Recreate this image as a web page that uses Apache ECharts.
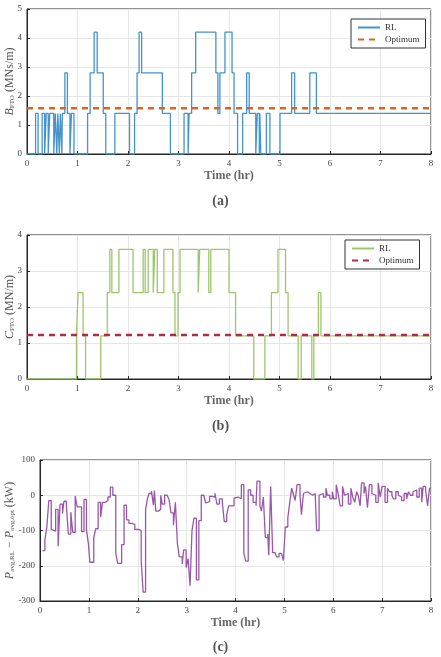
<!DOCTYPE html>
<html>
<head>
<meta charset="utf-8">
<script src="https://cdn.jsdelivr.net/npm/echarts@6/dist/echarts.min.js"></script>
<style>
  html, body { margin: 0; padding: 0; background: #fff; }
  #chart { width: 441px; height: 657px; }
</style>
</head>
<body>
<div id="chart"></div>
<script>
// (a) B_PTO steps: value holds from time[i] to time[i+1]
var bTime = [0, 0.17, 0.22, 0.30, 0.35, 0.38, 0.42, 0.45, 0.53, 0.56,
             0.59, 0.61, 0.64, 0.66, 0.69, 0.70, 0.75, 0.80, 0.85, 0.88,
             0.93, 1.20, 1.25, 1.33, 1.39, 1.51, 1.56, 1.74, 2.03, 2.13,
             2.18, 2.22, 2.27, 2.68, 2.84, 3.11, 3.19, 3.21, 3.26, 3.34,
             3.74, 3.78, 3.82, 3.92, 4.06, 4.10, 4.17, 4.27, 4.35, 4.40,
             4.53, 4.56, 4.60, 4.61, 4.63, 4.74, 4.81, 5.01, 5.24, 5.30,
             5.60, 5.73, 8];
var bVal  = [0, 1.4, 0, 1.4, 0, 1.4, 0, 1.4, 0, 1.4,
             0, 1.4, 0, 1.4, 0, 1.4, 2.8, 1.4, 0, 1.4,
             0, 1.4, 2.8, 4.2, 2.8, 1.4, 0, 1.4, 0, 1.4,
             2.8, 4.2, 2.8, 1.4, 0, 1.4, 0, 1.4, 2.8, 4.2,
             2.8, 1.4, 2.8, 4.2, 2.8, 1.4, 0, 1.4, 2.8, 1.4,
             0, 1.4, 0, 1.4, 0, 1.4, 0, 1.4, 2.8, 1.4,
             2.8, 1.4, 1.4];
var bOpt = 1.58;

// (b) C_PTO steps
var cTime = [0, 0.98, 1.01, 1.11, 1.16, 1.46, 1.59, 1.64, 1.68, 1.82,
             2.10, 2.30, 2.34, 2.40, 2.50, 2.53, 2.58, 2.71, 2.89, 2.93,
             2.99, 3.03, 3.39, 3.42, 3.60, 3.64, 4.00, 4.13, 4.49, 4.71,
             4.84, 4.97, 5.12, 5.17, 5.37, 5.43, 5.64, 5.68, 5.77, 5.82,
             8];
var cVal  = [0, 1.2, 2.4, 1.2, 0, 1.2, 2.4, 3.6, 2.4, 3.6,
             2.4, 3.6, 2.4, 3.6, 2.4, 3.6, 2.4, 3.6, 2.4, 1.2,
             2.4, 3.6, 2.4, 3.6, 2.4, 3.6, 2.4, 1.2, 0, 1.2,
             2.4, 3.6, 2.4, 1.2, 0, 1.2, 0, 1.2, 2.4, 1.2,
             1.2];
var cOpt = 1.22;

// (c) P_avg,RL - P_avg,opt (kW)
var pTime = [0.05,0.10,0.14,0.18,0.23,0.27,0.32,0.37,0.41,0.46,
             0.49,0.54,0.58,0.63,0.67,0.72,0.76,0.85,0.90,0.95,
             0.99,1.02,1.10,1.14,1.19,1.24,1.28,1.34,1.39,1.44,
             1.49,1.55,1.59,1.67,1.72,1.77,1.82,1.89,1.94,2.02,
             2.07,2.11,2.16,2.19,2.23,2.28,2.32,2.34,2.37,2.42,
             2.47,2.50,2.55,2.60,2.64,2.68,2.73,2.77,2.81,2.85,
             2.91,2.94,2.99,3.03,3.07,3.11,3.15,3.20,3.25,3.30,
             3.35,3.39,3.43,3.47,3.52,3.58,3.62,3.67,3.73,3.77,
             3.82,3.86,3.92,3.97,4.00,4.05,4.12,4.17,4.21,4.26,
             4.31,4.36,4.42,4.44,4.50,4.53,4.57,4.61,4.66,4.68,
             4.72,4.76,4.81,4.84,4.89,4.94,4.98,5.02,5.07,5.11,
             5.15,5.18,5.22,5.26,5.32,5.35,5.39,5.43,5.47,5.52,
             5.58,5.63,5.66,5.71,5.75,5.80,5.85,5.88,5.93,5.98,
             6.01,6.06,6.10,6.14,6.19,6.23,6.27,6.31,6.36,6.40,
             6.44,6.48,6.51,6.55,6.58,6.63,6.66,6.70,6.74,6.79,
             6.83,6.87,6.92,6.96,7.00,7.06,7.11,7.15,7.20,7.23,
             7.28,7.33,7.37,7.40,7.45,7.50,7.54,7.58,7.63,7.67,
             7.71,7.76,7.81,7.84,7.89,7.93,7.97,8.00];
var pVal  = [-157,-127,-90,-15,-97,-102,-40,-145,-25,-52,
             -17,-30,-110,-48,-105,-2,-33,-103,-12,-97,
             -137,-190,-120,-95,-20,-62,-20,-15,-5,23,
             0,-165,-193,-140,-28,-70,-80,-83,-97,-100,
             -185,-275,-40,-15,5,12,-28,13,-45,-40,
             0,-25,0,5,-12,-50,-85,-20,-135,-175,
             -195,-155,-205,-180,-257,-100,-65,-240,-72,0,
             -3,-22,-18,-3,-5,5,-25,-10,-20,-75,
             -55,-30,-30,-8,-5,-10,30,-165,-187,15,
             0,-20,-30,40,-30,-45,-5,-120,-110,-170,
             25,-163,-160,-175,-165,-170,-185,-90,-65,-20,
             20,5,-15,30,-2,-55,5,10,5,0,
             5,0,-100,0,5,-5,20,0,-10,10,
             -10,30,5,-30,25,0,5,-25,20,-5,
             -20,10,0,-30,35,5,25,-35,30,5,
             0,-20,35,-5,25,-20,20,10,0,-10,
             10,0,-5,-15,5,-10,10,0,10,15,
             -5,20,-20,25,15,-30,20,20];

var serif = 'Liberation Serif';
var gridColor = '#e6e6e6';

function pairs(ts, vs) {
    return ts.map(function (t, i) { return [t, vs[i]]; });
}

function xAx(idx) {
    return {
        type: 'value', gridIndex: idx, min: 0, max: 8, interval: 1,
        name: 'Time (hr)', nameLocation: 'middle', nameGap: 16, nameMoveOverlap: false,
        nameTextStyle: { fontFamily: serif, fontSize: 12, fontWeight: 'bold', color: '#666' },
        axisLine: { show: true, onZero: false, lineStyle: { color: '#262626', width: 1 } },
        axisTick: { inside: true, length: 3, lineStyle: { color: '#262626' } },
        axisLabel: { fontFamily: serif, fontSize: 9, color: '#444', margin: 5 },
        splitLine: { show: true, lineStyle: { color: gridColor } }
    };
}

function yAx(idx, min, max, interval, name, gap) {
    return {
        type: 'value', gridIndex: idx, min: min, max: max, interval: interval,
        name: name, nameLocation: 'middle', nameGap: gap, nameRotate: 90, nameMoveOverlap: false,
        nameTextStyle: {
            fontFamily: serif, color: '#555', verticalAlign: 'bottom',
            rich: {
                i: { fontFamily: serif, fontStyle: 'italic', fontSize: 12, color: '#555', verticalAlign: 'bottom' },
                s: { fontFamily: serif, fontSize: 7, color: '#555', verticalAlign: 'bottom', lineHeight: 8 },
                n: { fontFamily: serif, fontSize: 12, color: '#555', verticalAlign: 'bottom' }
            }
        },
        axisLine: { show: true, lineStyle: { color: '#262626', width: 1 } },
        axisTick: { inside: true, length: 3, lineStyle: { color: '#262626' } },
        axisLabel: { fontFamily: serif, fontSize: 9, color: '#444', margin: 5 },
        splitLine: { show: true, lineStyle: { color: gridColor } }
    };
}

function legendAt(left, top, names) {
    return {
        left: left, top: top, orient: 'vertical',
        data: names,
        formatter: function (n) { return n.split('_')[0]; },
        itemWidth: 22, itemHeight: 8, itemGap: 3,
        padding: [4, 6, 4, 6],
        itemStyle: { opacity: 0 },
        borderColor: '#333', borderWidth: 1, backgroundColor: '#fff',
        textStyle: { fontFamily: serif, fontSize: 9, color: '#333' }
    };
}

var chart = echarts.init(document.getElementById('chart'));
chart.setOption({
    animation: false,
    grid: [
        { left: 27, top: 9, width: 404, height: 145, outerBoundsMode: 'none', containLabel: false, show: true, borderColor: '#262626', borderWidth: 1 },
        { left: 27, top: 235, width: 404, height: 144, outerBoundsMode: 'none', containLabel: false, show: true, borderColor: '#262626', borderWidth: 1 },
        { left: 40, top: 460, width: 391, height: 141, outerBoundsMode: 'none', containLabel: false, show: true, borderColor: '#262626', borderWidth: 1 }
    ],
    xAxis: [xAx(0), xAx(1), xAx(2)],
    yAxis: [
        yAx(0, 0, 5, 1, '{i|B}{s|PTO}{n| (MNs/m)}', 11),
        yAx(1, 0, 4, 1, '{i|C}{s|PTO}{n| (MN/m)}', 11),
        yAx(2, -300, 100, 100, '{i|P}{s|avg,RL}{n| − }{i|P}{s|avg,opt}{n| (kW)}', 24)
    ],
    legend: [
        legendAt(351, 19, ['RL_a', 'Optimum_a']),
        legendAt(345, 240, ['RL_b', 'Optimum_b'])
    ],
    graphic: [
        { type: 'text', left: 'center', top: 194, style: { text: '(a)', fontFamily: serif, fontSize: 14, fontWeight: 'bold', fill: '#555' } },
        { type: 'text', left: 'center', top: 419, style: { text: '(b)', fontFamily: serif, fontSize: 14, fontWeight: 'bold', fill: '#555' } },
        { type: 'text', left: 'center', top: 640, style: { text: '(c)', fontFamily: serif, fontSize: 14, fontWeight: 'bold', fill: '#555' } }
    ],
    series: [
        {
            name: 'RL_a', type: 'line', xAxisIndex: 0, yAxisIndex: 0, step: 'end',
            data: pairs(bTime, bVal), showSymbol: false, symbol: 'none',
            color: '#4493cb', lineStyle: { width: 1.3, color: '#4493cb' }
        },
        {
            name: 'Optimum_a', type: 'line', xAxisIndex: 0, yAxisIndex: 0,
            data: [[0, bOpt], [8, bOpt]], showSymbol: false, symbol: 'none',
            color: '#d9651f', lineStyle: { width: 2.5, color: '#d9651f', type: [6, 5] }
        },
        {
            name: 'RL_b', type: 'line', xAxisIndex: 1, yAxisIndex: 1, step: 'end',
            data: pairs(cTime, cVal), showSymbol: false, symbol: 'none',
            color: '#9cc66c', lineStyle: { width: 1.3, color: '#9cc66c' }
        },
        {
            name: 'Optimum_b', type: 'line', xAxisIndex: 1, yAxisIndex: 1,
            data: [[0, cOpt], [8, cOpt]], showSymbol: false, symbol: 'none',
            color: '#b32a47', lineStyle: { width: 2.5, color: '#b32a47', type: [6, 5] }
        },
        {
            name: 'P', type: 'line', xAxisIndex: 2, yAxisIndex: 2, step: 'end',
            data: pairs(pTime, pVal), showSymbol: false, symbol: 'none',
            color: '#9a57aa', lineStyle: { width: 1.3, color: '#9a57aa' }
        }
    ]
});
</script>
</body>
</html>
